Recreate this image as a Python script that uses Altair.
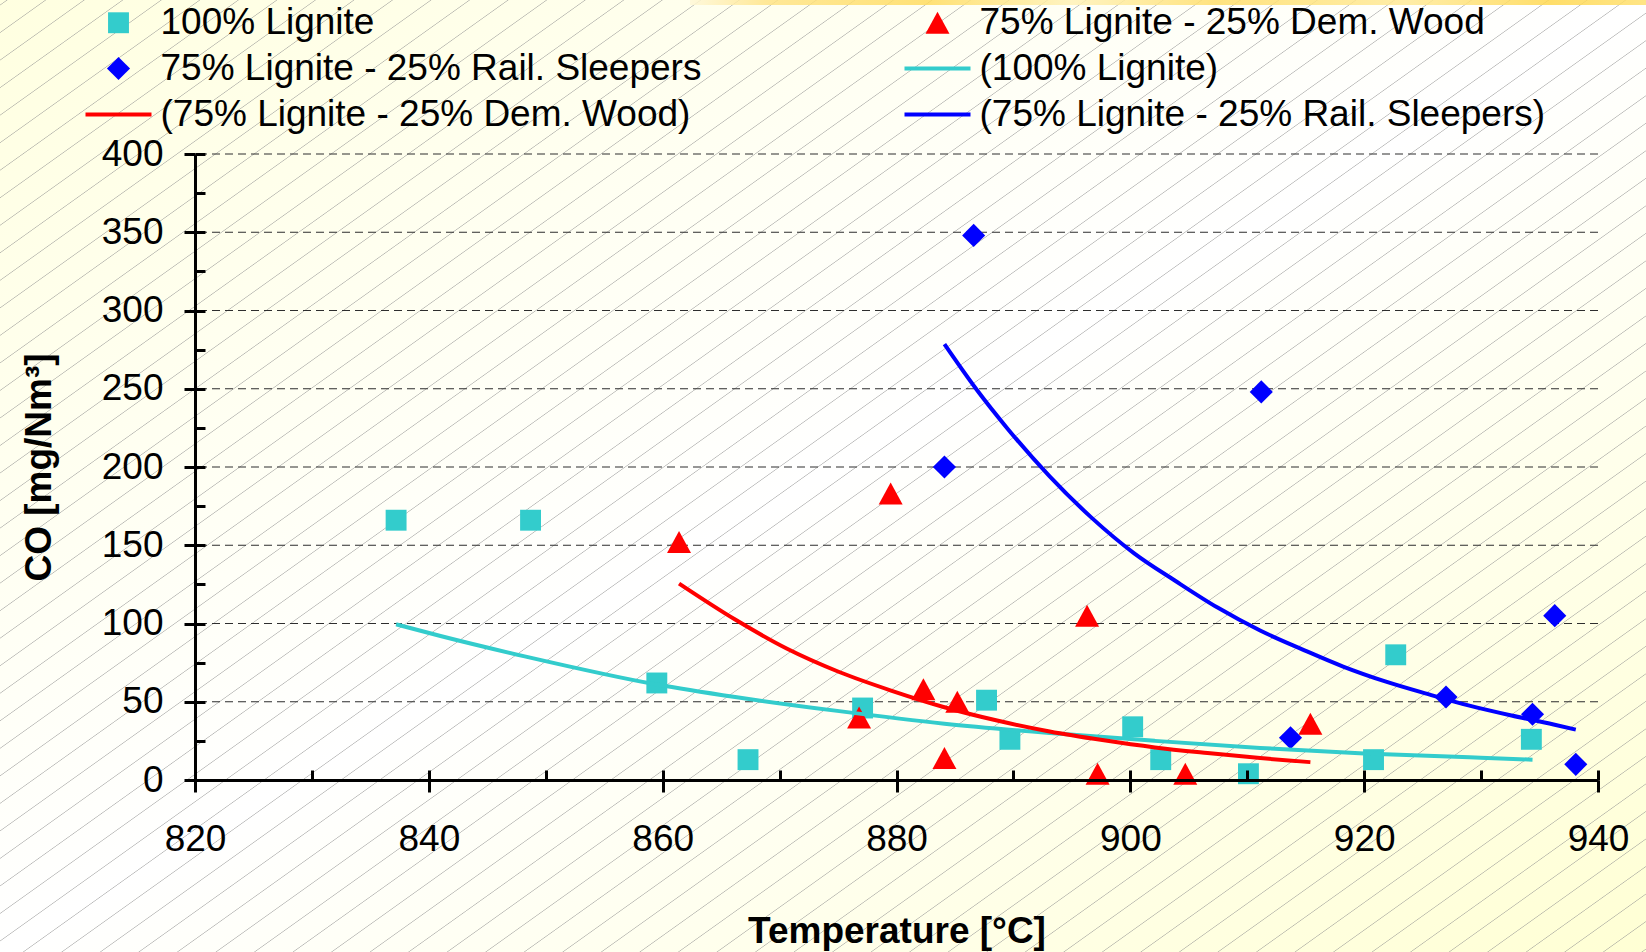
import math
import altair as alt
import pandas as pd

# ---------------- data ----------------
lig_T = [837.2, 848.7, 859.5, 867.3, 877.1, 887.7, 889.7, 900.2, 902.6, 910.1, 920.8, 922.7, 934.3]
lig_CO = [166, 166, 62, 13, 46, 51, 26, 34, 13, 4, 13, 80, 26]

dem_T = [861.4, 876.8, 879.5, 882.3, 884.1, 885.2, 896.3, 897.2, 904.7, 915.4]
dem_CO = [152, 40, 183, 58, 14, 50, 105, 4, 4, 36]

rail_T = [884.1, 886.6, 911.2, 913.7, 927.0, 934.4, 936.3, 938.1]
rail_CO = [200, 348, 248, 27, 53, 42, 105, 10]

lig_fit_T = [837.2, 841.0, 848.2, 859.5, 866.2, 875.1, 884.1, 893.1, 902.1, 911.1, 920.0, 929.0, 934.4]
lig_fit_CO = [99.5, 92, 79, 61, 53, 44, 36, 30, 25, 20.5, 17, 14.5, 13]

dem_fit_T = [861.4, 866.2, 870.6, 875.1, 879.6, 884.1, 888.6, 893.1, 897.6, 902.1, 906.6, 911.1, 915.4]
dem_fit_CO = [125.5, 102.5, 84, 69, 57, 46.5, 38, 31, 25.5, 20.8, 17.2, 14, 11.4]

rail_fit_T = [884.1, 886.8, 889.5, 893.1, 896.7, 900.3, 903.9, 907.5, 911.1, 914.7,
              918.2, 921.8, 925.4, 929.0, 932.6, 936.2, 938.1]
rail_fit_CO = [278.5, 250, 224.5, 194, 167.5, 145, 127, 110, 95.5, 83.5,
               72.5, 63, 55, 47.5, 41.2, 35.5, 32.2]

series_names = ["100% Lignite",
                "75% Lignite - 25% Dem. Wood",
                "75% Lignite - 25% Rail. Sleepers",
                "(100% Lignite)",
                "(75% Lignite - 25% Dem. Wood)",
                "(75% Lignite - 25% Rail. Sleepers)"]
series_colors = ["#33CCCC", "#FF0000", "#0000FF", "#33CCCC", "#FF0000", "#0000FF"]

grid_values = [50, 100, 150, 200, 250, 300, 350, 400]
x_major = [820, 840, 860, 880, 900, 920, 940]
x_all = [820, 830, 840, 850, 860, 870, 880, 890, 900, 910, 920, 930, 940]
y_major = [0, 50, 100, 150, 200, 250, 300, 350, 400]
y_all = [0, 25, 50, 75, 100, 125, 150, 175, 200, 225, 250, 275, 300, 325, 350, 375, 400]

# ---------------- tables ----------------
pts = pd.DataFrame({
    "T": lig_T + dem_T + rail_T,
    "CO": lig_CO + dem_CO + rail_CO,
    "series": [series_names[0]] * len(lig_T) + [series_names[1]] * len(dem_T) + [series_names[2]] * len(rail_T),
})
fits = pd.DataFrame({
    "T": lig_fit_T + dem_fit_T + rail_fit_T,
    "CO": lig_fit_CO + dem_fit_CO + rail_fit_CO,
    "series": [series_names[3]] * len(lig_fit_T) + [series_names[4]] * len(dem_fit_T) + [series_names[5]] * len(rail_fit_T),
})
grid_df = pd.DataFrame({"v": grid_values})
one = pd.DataFrame({"a": [0]})

# ---------------- layout / style ----------------
W, H = 1403, 626
PL, PT, PR, PB = 195, 154, 48, 172
FONT = "Liberation Sans"
FS = 37

X_SCALE = alt.Scale(domain=[820, 940], nice=False, zero=False)
Y_SCALE = alt.Scale(domain=[0, 400], nice=False, zero=False)

EXT = "M-3,0M3,0"
shapes = [EXT + "M-0.95,-0.95H0.95V0.95H-0.95Z",
          EXT + "M0,-1L1.09,1L-1.09,1Z",
          EXT + "M0,-1.05L1.05,0L0,1.05L-1.05,0Z",
          "M-3,-0.19H3V0.19H-3Z",
          "M-3,-0.19H3V0.19H-3Z",
          "M-3,-0.19H3V0.19H-3Z"]

legend = alt.Legend(orient="none", legendX=-95, legendY=-150, columns=2,
                    direction="horizontal",
                    columnPadding=202, rowPadding=8, symbolSize=484,
                    symbolStrokeWidth=0, symbolOpacity=1, labelFont=FONT,
                    labelFontSize=FS, labelColor="black", labelLimit=0,
                    labelOffset=23.5, symbolOffset=0, title=None, padding=0)

x_axis_main = alt.Axis(orient="bottom", values=x_major, title="Temperature [°C]",
                       labelFont=FONT, labelFontSize=FS, labelColor="black",
                       labelPadding=29, labelFlush=False, labelOverlap=False,
                       tickSize=12, tickWidth=3, tickColor="black",
                       domainColor="black", domainWidth=3, grid=False,
                       titleFont=FONT, titleFontSize=FS, titleFontWeight="bold",
                       titleColor="black", titleY=151, titleBaseline="middle", zindex=1)
x_axis_minor = alt.Axis(orient="top", offset=-H, values=x_all, labels=False,
                        domain=False, grid=False, tickSize=10, tickWidth=3,
                        tickColor="black", title=None, zindex=1)
y_axis_main = alt.Axis(orient="left", values=y_major, title="CO [mg/Nm³]",
                       labelFont=FONT, labelFontSize=FS, labelColor="black",
                       labelPadding=21, labelFlush=False, labelOverlap=False,
                       tickSize=11, tickWidth=3, tickColor="black",
                       domainColor="black", domainWidth=3, grid=False,
                       titleFont=FONT, titleFontSize=FS, titleFontWeight="bold",
                       titleColor="black", titleX=-156, titleBaseline="middle", zindex=1)
y_axis_minor = alt.Axis(orient="right", offset=-W, values=y_all, labels=False,
                        domain=False, grid=False, tickSize=10, tickWidth=3,
                        tickColor="black", title=None, zindex=1)

# ---------------- background decoration ----------------
bg_grad = {"gradient": "linear", "x1": 0, "y1": 0, "x2": 1, "y2": 1,
           "stops": [{"offset": 0, "color": "#FFFFE0"},
                     {"offset": 0.5, "color": "#FFFFFF"},
                     {"offset": 1, "color": "#FFFFD4"}]}
bg = alt.Chart(one).mark_rect(fill=bg_grad, strokeWidth=0).encode(
    x=alt.value(-PL), x2=alt.value(W + PR), y=alt.value(-PT), y2=alt.value(H + PB))

theta = math.atan2(27.5, 38.5)
nx, ny = math.sin(theta), math.cos(theta)
L = 1800.0
sp = 22.4
hw = 0.7
p = (886 * ny) % sp
hstops = []
while p + hw < L:
    if p - hw > 0:
        hstops.append({"offset": round((p - hw) / L, 6), "color": "rgba(140,140,140,0)"})
        hstops.append({"offset": round(p / L, 6), "color": "rgba(140,140,140,0.6)"})
        hstops.append({"offset": round((p + hw) / L, 6), "color": "rgba(140,140,140,0)"})
    p += sp
hatch_grad = {"gradient": "linear", "x1": 0, "y1": 0, "x2": round(nx, 5), "y2": round(ny, 5),
              "stops": hstops}
hatch = alt.Chart(one).mark_rect(fill=hatch_grad, strokeWidth=0).encode(
    x=alt.value(-PL), x2=alt.value(-PL + L), y=alt.value(-PT), y2=alt.value(-PT + L))

streak_grad = {"gradient": "linear", "x1": 0, "y1": 0, "x2": 1, "y2": 0,
               "stops": [{"offset": 0, "color": "#FFF8D8"},
                         {"offset": 0.08, "color": "#FFE488"},
                         {"offset": 0.25, "color": "#FFDC60"},
                         {"offset": 0.4, "color": "#FFF2B8"},
                         {"offset": 0.55, "color": "#FFDE6A"},
                         {"offset": 0.75, "color": "#FFEA98"},
                         {"offset": 0.9, "color": "#FFD850"},
                         {"offset": 1, "color": "#FFE070"}]}
streak = alt.Chart(one).mark_rect(fill=streak_grad, strokeWidth=0, opacity=0.85).encode(
    x=alt.value(690 - PL), x2=alt.value(W + PR), y=alt.value(-PT), y2=alt.value(-PT + 5))

# ---------------- chart layers ----------------
grid = alt.Chart(grid_df).mark_rule(strokeDash=[8, 5], color="#2e2e2e", strokeWidth=1.2).encode(
    y=alt.Y("v:Q", scale=Y_SCALE, axis=None))

points = alt.Chart(pts).mark_point(filled=True, size=484, opacity=1, strokeWidth=0).encode(
    x=alt.X("T:Q", scale=X_SCALE, axis=x_axis_main),
    y=alt.Y("CO:Q", scale=Y_SCALE, axis=y_axis_main),
    color=alt.Color("series:N", scale=alt.Scale(domain=series_names, range=series_colors), legend=legend),
    shape=alt.Shape("series:N", scale=alt.Scale(domain=series_names, range=shapes), legend=legend),
)

lines = alt.Chart(fits).mark_line(strokeWidth=4, interpolate="monotone").encode(
    x=alt.X("T:Q", scale=X_SCALE, axis=x_axis_minor),
    y=alt.Y("CO:Q", scale=Y_SCALE, axis=y_axis_minor),
    stroke=alt.Stroke("series:N", scale=alt.Scale(domain=series_names[3:], range=series_colors[3:]), legend=None),
)

chart = alt.layer(bg, hatch, streak, grid, points, lines).resolve_axis(
    x="independent", y="independent"
).properties(
    width=W, height=H,
    padding={"left": PL, "top": PT, "right": PR, "bottom": PB},
    autosize=alt.AutoSizeParams(type="none"),
    background="#FFFFF4",
).configure_view(strokeWidth=0)

chart.save("out.html", embed_options={"renderer": "svg", "actions": False})
